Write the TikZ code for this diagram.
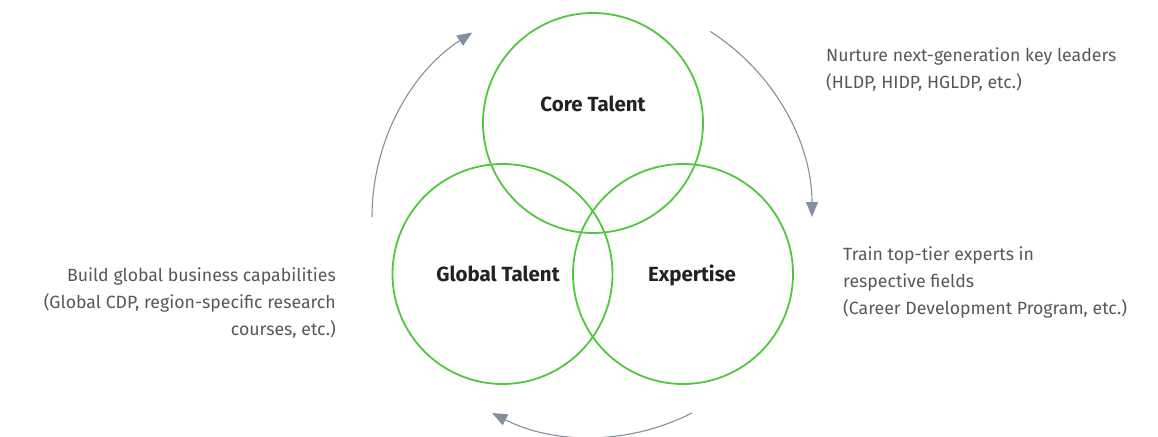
\documentclass[tikz,border=0pt]{standalone}
\usepackage{fontspec}
\setmainfont{Fira Sans}
\usetikzlibrary{arrows.meta}
\definecolor{venngreen}{HTML}{50C83E}
\definecolor{arcgray}{HTML}{8290A0}
\definecolor{txtgray}{HTML}{585858}
\definecolor{txtdark}{HTML}{222222}
\begin{document}
\begin{tikzpicture}[x=1pt,y=-1pt,
  venn/.style={circle,draw=venngreen,line width=1.8pt,minimum size=220pt,inner sep=0pt},
  vlabel/.style={font=\fontsize{20.5}{24}\selectfont\bfseries,text=txtdark,anchor=base,inner sep=0pt},
  note/.style={font=\fontsize{17.7}{27}\selectfont,text=txtgray,inner sep=0pt},
  cyc/.style={draw=arcgray,line width=1.1pt,-{Triangle[length=15pt,width=12pt]}}]
\useasboundingbox (0,0) rectangle (1158,436);
\clip (0,0) rectangle (1158,436);
% circles
\node[venn] (core) at (593,123) {};
\node[venn] (global) at (502.5,274) {};
\node[venn] (expert) at (683,274) {};
% labels
\node[vlabel] (lcore) at (593,111.5) {Core Talent};
\node[vlabel] (lglobal) at (498,281.5) {Global Talent};
\node[vlabel] (lexpert) at (692,281.5) {Expertise};
% notes
\node[note,anchor=north west,align=left] (n1) at (826,47.5) {Nurture next-generation key leaders\\(HLDP, HIDP, HGLDP, etc.)};
\node[note,anchor=north west,align=left] (n2) at (843,246.5) {Train top-tier experts in\\respective fields\\(Career Development Program, etc.)};
\node[note,anchor=north east,align=right] (n3) at (336,267.5) {Build global business capabilities\\(Global CDP, region-specific research\\courses, etc.)};
% cycle arrows
\coordinate (o) at (592,217);
\coordinate (a1) at ([shift={(180:220pt)}]o);
\coordinate (a2) at ([shift={(57.5:220pt)}]o);
\coordinate (a3) at ([shift={(-63:220pt)}]o);
\draw[cyc] (a1) arc[start angle=180,end angle=123,radius=220pt];
\draw[cyc] (a2) arc[start angle=57.5,end angle=0,radius=220pt];
\draw[cyc] (a3) arc[start angle=-63,end angle=-117,radius=220pt];
\end{tikzpicture}
\end{document}
